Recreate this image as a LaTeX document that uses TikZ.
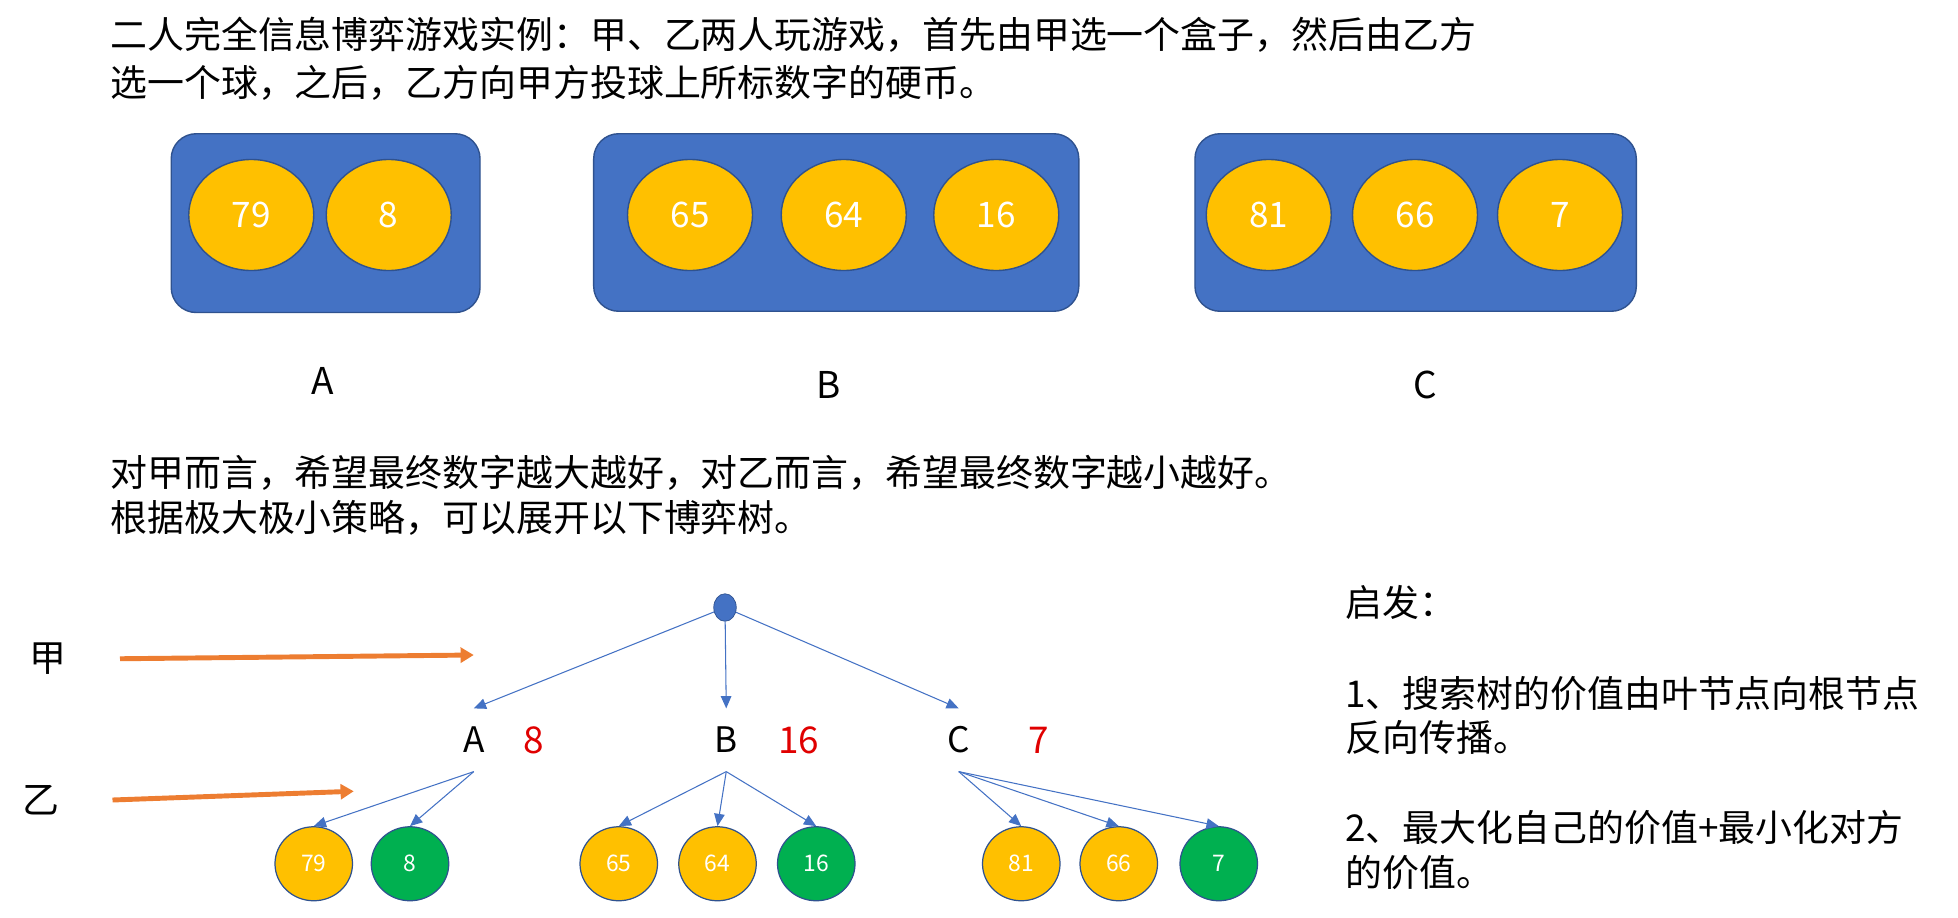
\documentclass[tikz,border=0pt]{standalone}
\usepackage{fontspec}
\setmainfont{Noto Sans CJK SC}
\usetikzlibrary{shapes.geometric,arrows.meta}
\definecolor{boxblue}{HTML}{4472C4}
\definecolor{darkblue}{HTML}{2F528F}
\definecolor{ballyellow}{HTML}{FFC000}
\definecolor{ballgreen}{HTML}{00B050}
\definecolor{arroworange}{HTML}{ED7D31}
\definecolor{valred}{HTML}{E00000}

\begin{document}
\begin{tikzpicture}[x=0.025cm,y=-0.025cm,
  txt/.style={anchor=base west,inner sep=0pt,font=\fontsize{21}{27}\selectfont},
  box/.style={draw=darkblue,fill=boxblue,rounded corners=0.5cm,line width=0.8pt},
  ball/.style={ellipse,draw=darkblue,fill=ballyellow,line width=0.8pt,minimum width=2.5cm,minimum height=2.22cm,text=white,font=\fontsize{20}{24}\selectfont},
  leaf/.style={ellipse,draw=darkblue,fill=ballyellow,line width=0.7pt,minimum width=1.55cm,minimum height=1.48cm,text=white,font=\fontsize{13}{15}\selectfont},
  win/.style={leaf,fill=ballgreen},
  lbl/.style={font=\fontsize{21}{25}\selectfont},
  choice/.style={font=\fontsize{20}{24}\selectfont,inner sep=0pt,minimum height=1.25cm},
  val/.style={font=\fontsize{21}{24}\selectfont,text=valred},
  playerarrow/.style={draw=arroworange,line width=2.8pt,-{Triangle[length=7.5pt,width=8.5pt]}},
  treeedge/.style={color=boxblue,line width=0.6pt,-{Triangle[length=7pt,width=6pt]}}]
  \useasboundingbox (0,0) rectangle (1566.4,733.6);

  \node[txt] (title1) at (88,39) {二人完全信息博弈游戏实例：甲、乙两人玩游戏，首先由甲选一个盒子，然后由乙方};
  \node[txt] (title2) at (88,77) {选一个球，之后，乙方向甲方投球上所标数字的硬币。};

  \node[box,minimum width=6.175cm,minimum height=3.575cm] (boxA) at (260.5,178.5) {};
  \node[box,minimum width=9.7cm,minimum height=3.55cm] (boxB) at (669,178) {};
  \node[box,minimum width=8.825cm,minimum height=3.55cm] (boxC) at (1132.5,178) {};
  \node[ball] (b79) at (201,172) {79};
  \node[ball] (b8) at (311,172) {8};
  \node[ball] (b65) at (552,172) {65};
  \node[ball] (b64) at (675,172) {64};
  \node[ball] (b16) at (797,172) {16};
  \node[ball] (b81) at (1015,172) {81};
  \node[ball] (b66) at (1132,172) {66};
  \node[ball] (b7) at (1248,172) {7};
  \node[lbl] (nameA) at (258,305) {A};
  \node[lbl] (nameB) at (663,308) {B};
  \node[lbl] (nameC) at (1140,308) {C};

  \node[txt] (goal1) at (88,389) {对甲而言，希望最终数字越大越好，对乙而言，希望最终数字越小越好。};
  \node[txt] (goal2) at (88,425) {根据极大极小策略，可以展开以下博弈树。};

  % game tree
  \node[ellipse,draw=darkblue,fill=boxblue,minimum width=0.45cm,minimum height=0.55cm,inner sep=0pt] (root) at (580,486) {};
  \node[lbl] (jia) at (38,527) {甲};
  \node[lbl] (yi) at (33,640) {乙};
  \coordinate (jiaFrom) at (96,527);
  \coordinate (jiaTo) at (379,524);
  \coordinate (yiFrom) at (90,640);
  \coordinate (yiTo) at (283,633);
  \draw[playerarrow] (jiaFrom) -- (jiaTo);
  \draw[playerarrow] (yiFrom) -- (yiTo);

  \node[choice] (A) at (379,592) {A};
  \node[val] (vA) at (427,592) {8};
  \node[choice] (B) at (581,592) {B};
  \node[val] (vB) at (639,592) {16};
  \node[choice] (C) at (767,592) {C};
  \node[val] (vC) at (831,592) {7};

  \node[leaf] (l79) at (251,691) {79};
  \node[win] (l8) at (328,691) {8};
  \node[leaf] (l65) at (495,691) {65};
  \node[leaf] (l64) at (574,691) {64};
  \node[win] (l16) at (653,691) {16};
  \node[leaf] (l81) at (817,691) {81};
  \node[leaf] (l66) at (895,691) {66};
  \node[win] (l7) at (975,691) {7};

  \path[treeedge]
    (root) edge (A.north)
    (root) edge (B.north)
    (root) edge (C.north)
    (A.south) edge (l79.north)
    (A.south) edge (l8.north)
    (B.south) edge (l65.north)
    (B.south) edge (l64.north)
    (B.south) edge (l16.north)
    (C.south) edge (l81.north)
    (C.south) edge (l66.north)
    (C.south) edge (l7.north);

  \node[txt] (hint) at (1076,493) {启发：};
  \node[txt] (hint1a) at (1076,566) {1、搜索树的价值由叶节点向根节点};
  \node[txt] (hint1b) at (1076,601) {反向传播。};
  \node[txt] (hint2a) at (1076,673) {2、最大化自己的价值+最小化对方};
  \node[txt] (hint2b) at (1076,709) {的价值。};
\end{tikzpicture}
\end{document}
